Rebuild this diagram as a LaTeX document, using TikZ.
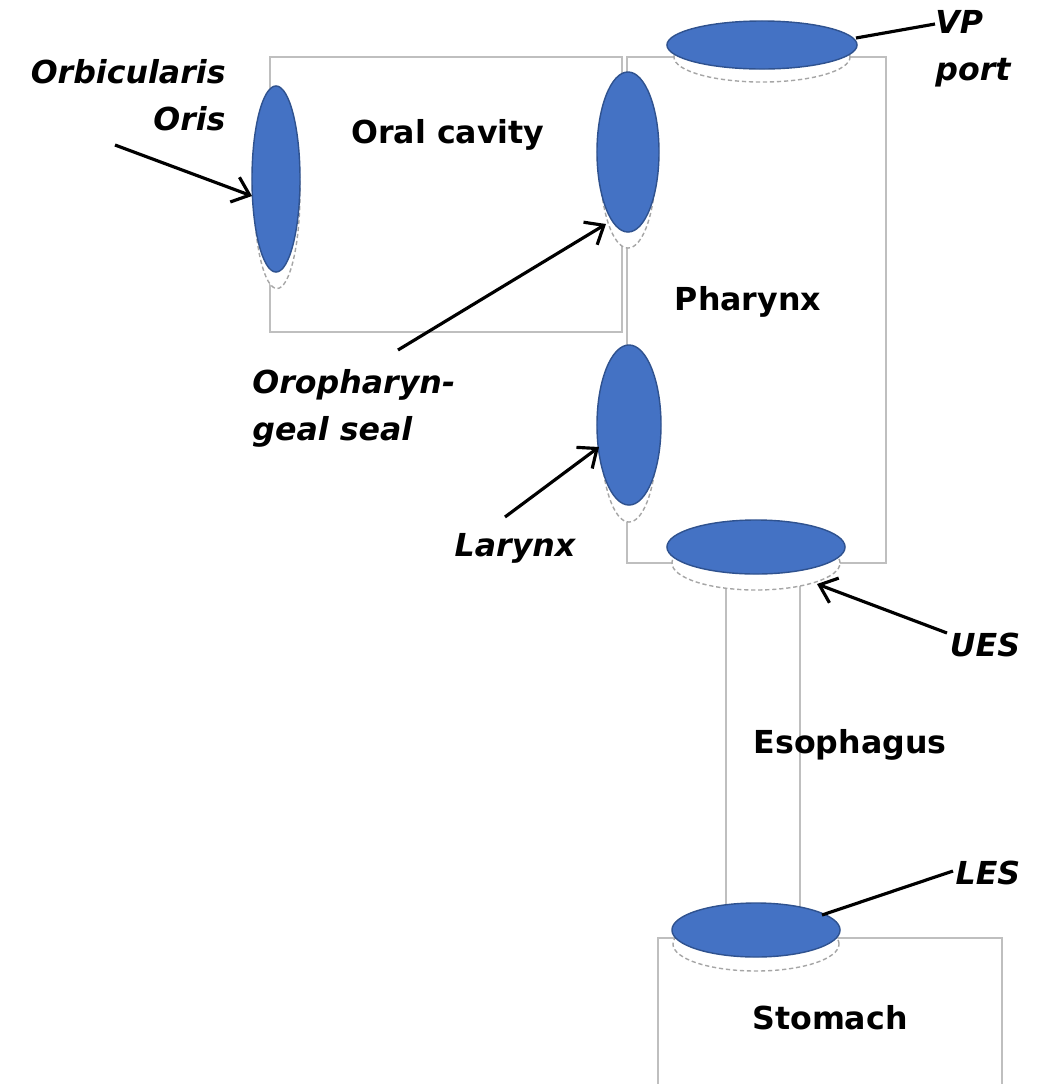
\documentclass[tikz,border=0pt]{standalone}
\usepackage{fontspec}
\setsansfont{DejaVu Sans}
\usetikzlibrary{arrows.meta,shapes.geometric}
\definecolor{muscle}{HTML}{4472C4}
\definecolor{muscleedge}{HTML}{2F528F}
\definecolor{wall}{HTML}{BFBFBF}

\begin{document}
\begin{tikzpicture}[x=0.01cm,y=-0.01cm,
    chamber/.style={draw=wall,line width=0.45pt},
    valve/.style={ellipse,draw=muscleedge,line width=0.4pt,fill=muscle,inner sep=0pt},
    shade/.style={ellipse,draw=gray!70,line width=0.4pt,dash pattern=on 1.2pt off 0.8pt,fill=white,inner sep=0pt},
    region/.style={font=\fontsize{9}{11}\selectfont\sffamily\bfseries},
    tag/.style={font=\fontsize{9}{13.4}\selectfont\sffamily\bfseries\itshape},
    pointer/.style={line width=0.9pt,-{Straight Barb[length=4.5pt,width=7.5pt]}},
    leader/.style={line width=0.9pt}]

  \useasboundingbox (0,0) rectangle (1038,1084);

  % --- the chambers ---
  \draw[chamber] (270,57) rectangle (622,332);
  \draw[chamber] (627,57) rectangle (886,563);
  \draw[chamber] (726,570) -- (726,930);
  \draw[chamber] (800,570) -- (800,930);
  \draw[chamber] (658,1084) -- (658,938) -- (1002,938) -- (1002,1084);

  % --- the valves, each with its pale outline below ---
  \node[shade,minimum width=46*0.2845pt,minimum height=193*0.2845pt] at (277,192) {};
  \node[valve,minimum width=48*0.2845pt,minimum height=186*0.2845pt] (orb) at (276,179) {};

  \node[shade,minimum width=56*0.2845pt,minimum height=170*0.2845pt] at (628,163) {};
  \node[valve,minimum width=62*0.2845pt,minimum height=160*0.2845pt] (seal) at (628,152) {};

  \node[shade,minimum width=56*0.2845pt,minimum height=170*0.2845pt] at (629,437) {};
  \node[valve,minimum width=64*0.2845pt,minimum height=160*0.2845pt] (lar) at (629,425) {};

  \node[shade,minimum width=176*0.2845pt,minimum height=50*0.2845pt] at (762,57) {};
  \node[valve,minimum width=190*0.2845pt,minimum height=48*0.2845pt] (vp) at (762,45) {};

  \node[shade,minimum width=168*0.2845pt,minimum height=54*0.2845pt] at (756,563) {};
  \node[valve,minimum width=178*0.2845pt,minimum height=54*0.2845pt] (ues) at (756,547) {};

  \node[shade,minimum width=166*0.2845pt,minimum height=54*0.2845pt] at (756,944) {};
  \node[valve,minimum width=168*0.2845pt,minimum height=54*0.2845pt] (les) at (756,930) {};

  % --- names of the regions ---
  \node[region] (oral) at (448,135) {Oral cavity};
  \node[region] (phar) at (748,302) {Pharynx};
  \node[region] (eso)  at (850,745) {Esophagus};
  \node[region] (stom) at (830,1018) {Stomach};

  % --- names of the valves ---
  \node[tag,align=right,anchor=east] (orbtag) at (238,95) {Orbicularis\\Oris};
  \node[tag,align=left,anchor=west]  (vptag)  at (923,49) {VP\\port};
  \node[tag,align=left,anchor=west]  (sealtag) at (240,408) {Oropharyn-\\geal seal};
  \node[tag] (lartag) at (515,548) {Larynx};
  \node[tag] (uestag) at (985,645) {UES};
  \node[tag] (lestag) at (988,873) {LES};

  % --- pointers ---
  \coordinate (orbtip)  at (252,196);
  \coordinate (sealtip) at (606,224);
  \coordinate (lartip)  at (599,447);
  \coordinate (uestip)  at (817,584);
  \coordinate (uesfoot) at (947,633);
  \coordinate (lestip)  at (822,915);
  \coordinate (lesfoot) at (953,871);
  \coordinate (vptip)   at (856,38);
  \coordinate (vpfoot)  at (935,24);

  \draw[pointer] (115,145) -- (orbtip);
  \draw[pointer] (398,350) -- (sealtip);
  \draw[pointer] (505,517) -- (lartip);
  \draw[pointer] (uesfoot) -- (uestip);
  \draw[leader]  (lesfoot) -- (lestip);
  \draw[leader]  (vpfoot) -- (vptip);
\end{tikzpicture}
\end{document}
